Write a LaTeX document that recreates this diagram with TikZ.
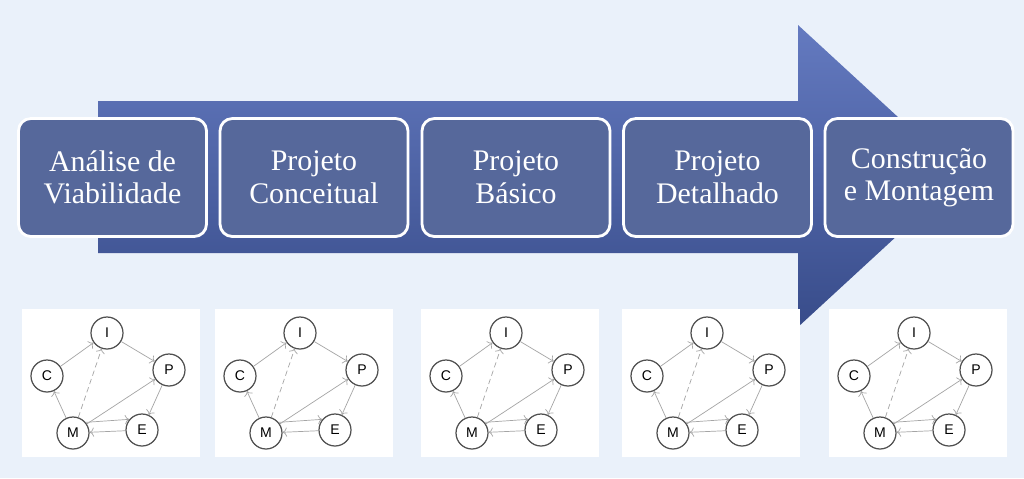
\documentclass[tikz,border=0pt]{standalone}
\usepackage{fontspec}
\setmainfont{Liberation Serif}
\newfontfamily\graphfont{Liberation Sans}
\usetikzlibrary{arrows.meta}
\definecolor{pagebg}{RGB}{234,241,250}
\definecolor{stagefill}{RGB}{86,104,155}
\definecolor{arrowtop}{RGB}{100,122,192}
\definecolor{arrowbot}{RGB}{56,76,138}
\definecolor{edgegray}{RGB}{165,165,165}
\definecolor{ringgray}{RGB}{80,80,80}
\tikzset{stage/.style={draw=white, line width=1.6pt, fill=stagefill, rounded corners=7pt, minimum width=3.76cm, minimum height=2.36cm, text=white, align=center, font=\fontsize{17}{18.5}\selectfont},
  state/.style={circle, draw=ringgray, line width=0.7pt, fill=white, minimum size=0.64cm, inner sep=0pt, font=\graphfont\fontsize{8}{9}\selectfont},
  link/.style={->, draw=edgegray, line width=0.4pt}}

\begin{document}
\begin{tikzpicture}[x=0.02cm, y=-0.02cm]
	% field
	\fill [pagebg] (0,0) rectangle (1024,478);
	
	% big arrow
	\shade [top color=arrowtop, bottom color=arrowbot] (98,101) -- (798,101) -- (798,25) -- (962,176) -- (798,327) -- (798,253) -- (98,253) -- cycle;
	
	% stages
	\node [stage] (analise) at (112.5,177.5) {Análise de\\Viabilidade};
	\node [stage] (conceitual) at (314,177.5) {Projeto\\Conceitual};
	\node [stage] (basico) at (516,177.5) {Projeto\\Básico};
	\node [stage] (detalhado) at (717.5,177.5) {Projeto\\Detalhado};
	\node [stage] (construcao) at (919,177.5) {Construção\\e Montagem};
	
	% graphs
	\foreach \px [count=\i] in {22,215,421,622,829} {
		\fill [white] (\px,309) rectangle (\px+178,457);
		\node [state] (I\i) at (\px+85,333) {I};
		\node [state] (C\i) at (\px+25,376) {C};
		\node [state] (P\i) at (\px+147,370) {P};
		\node [state] (M\i) at (\px+51,433) {M};
		\node [state] (E\i) at (\px+120,430) {E};
		\draw [link] (C\i) -- (I\i);
		\draw [link] (I\i) -- (P\i);
		\draw [link] (M\i) -- (C\i);
		\draw [link,densely dashed] (M\i) -- (I\i);
		\draw [link] (M\i) -- (P\i);
		\draw [link] (P\i) -- (E\i);
		\draw [link] (M\i.40) -- (E\i.140);
		\draw [link] (E\i) -- (M\i);
	}
\end{tikzpicture}
\end{document}
